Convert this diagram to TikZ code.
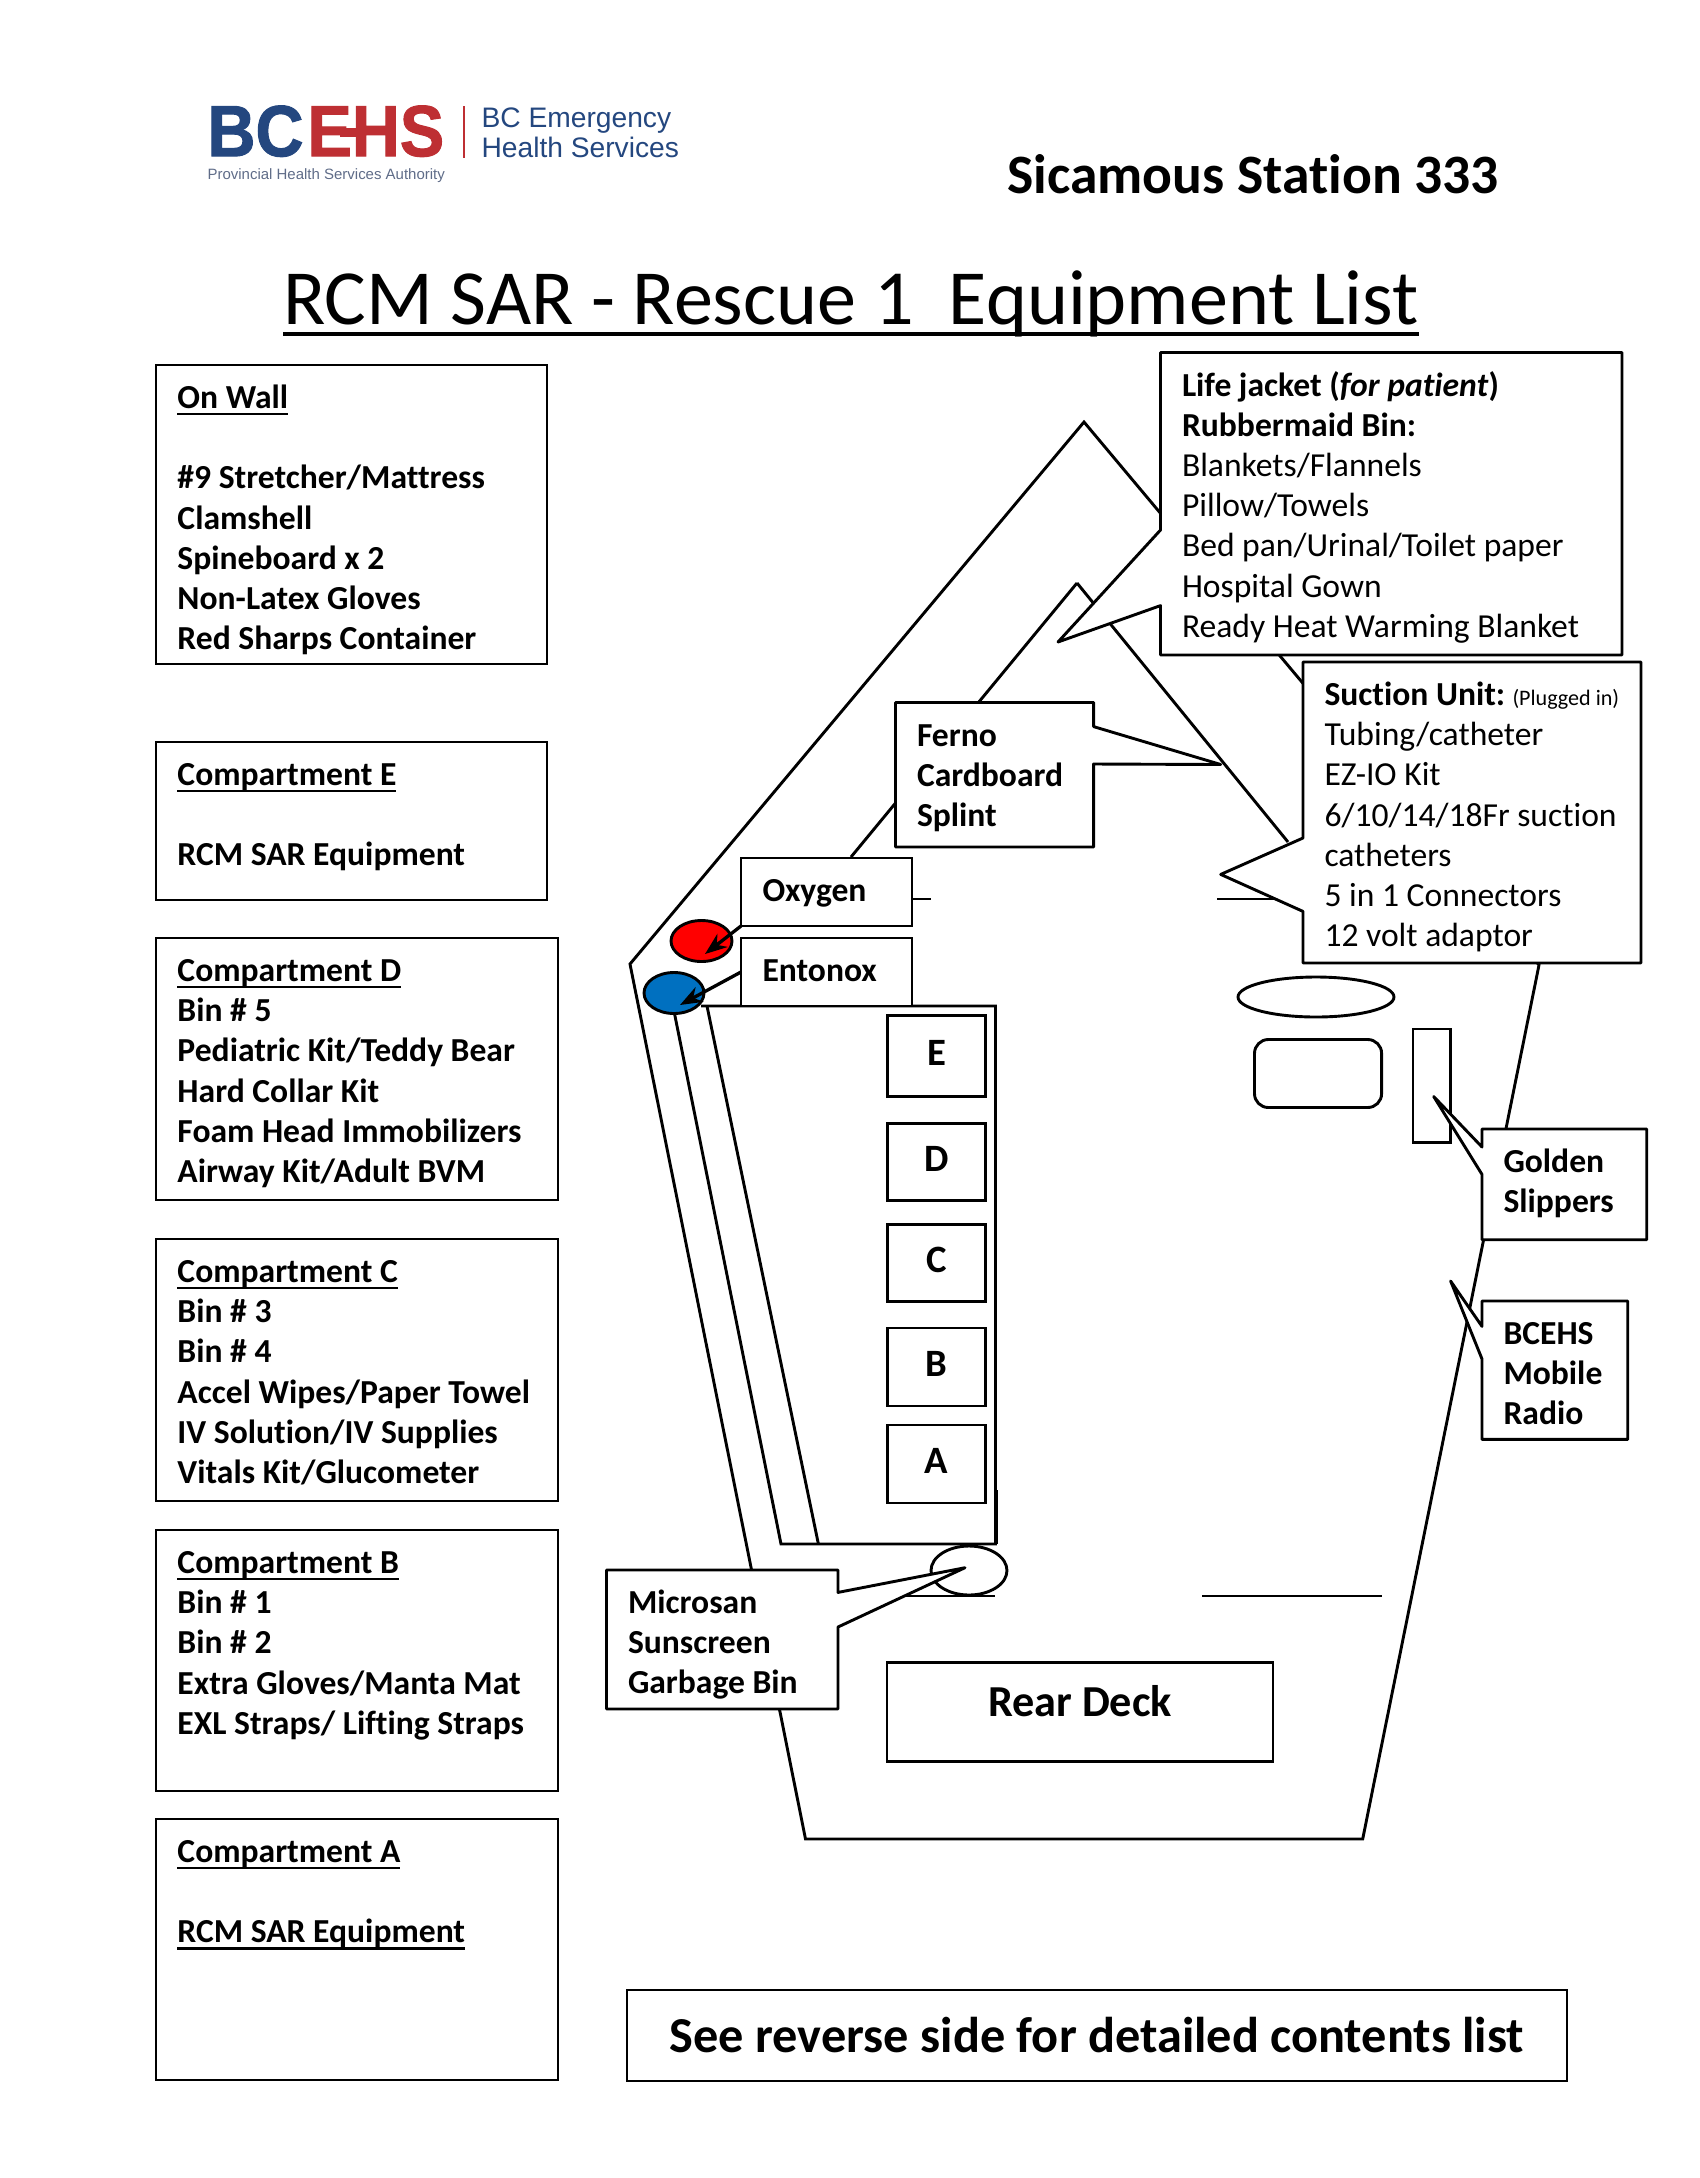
\documentclass[tikz,border=0pt]{standalone}
\usepackage{fontspec}
\usepackage{graphicx}
\usepackage{tikz}
\usetikzlibrary{arrows.meta}
\usetikzlibrary{shapes.geometric}
\setmainfont{Carlito}[Ligatures=NoCommon]
\newfontfamily\logofont{Liberation Sans}
\newfontfamily\logoheavy{Liberation Sans}[BoldFeatures={FakeBold=1.5}]
\definecolor{bcblue}{HTML}{24477F}
\definecolor{bcred}{HTML}{BE2F33}
\definecolor{bcgrey}{HTML}{5F6C88}
\definecolor{tankred}{HTML}{FF0000}
\definecolor{tankblue}{HTML}{0070C0}
\newlength{\pxu}
\setlength{\pxu}{0.005in}
% text block inside a box: width, height, then the lines
\newcommand{\boxtxt}[3]{\parbox[c][#2\pxu][t]{#1\pxu}{\raggedright\setlength{\leftskip}{21.5\pxu}\rule{0pt}{43.5\pxu}#3}}
% underline at a fixed depth: depth, thickness, text
\newcommand{\rulerline}[3]{\leavevmode\setbox0=\hbox{#3}\rlap{\rule[-#1]{\wd0}{#2}}\box0}
\newcommand{\headline}[1]{\rulerline{2.4pt}{0.8pt}{#1}}
\tikzset{
  edge/.style={line width=1.05pt, draw=black},
  textbox/.style={anchor=north west, inner sep=0pt, outer sep=0pt, font=\fontsize{12.15}{14.55}\selectfont},
  listbox/.style={textbox, edge, font=\fontsize{12.15}{14.55}\selectfont\bfseries},
  boldbox/.style={textbox, font=\fontsize{12.15}{14.55}\selectfont\bfseries},
  letterbox/.style={edge, fill=white, minimum width=98\pxu, minimum height=78\pxu, text height=9pt, text depth=2pt, font=\fontsize{14}{16}\selectfont\bfseries},
  callout/.style={edge, fill=white, line join=round},
  tankarrow/.style={line width=1.2pt, -{Stealth[length=8pt,width=6pt]}},
  logotext/.style={anchor=west, inner sep=0pt, bcblue, font=\logofont\fontsize{10.2}{12}\selectfont}
}
\begin{document}
\begin{tikzpicture}[x=0.005in, y=-0.005in]
  \useasboundingbox (0,0) rectangle (1700,2178);

  % Logo
  \node[anchor=north west, inner sep=0pt, bcblue] (logobc) at (207,105) {\scalebox{0.89}[0.97]{\logoheavy\fontsize{27}{27}\selectfont\bfseries BC}};
  \node[anchor=north west, inner sep=0pt, bcred] (logoehs) at (307,105) {\scalebox{0.89}[0.97]{\logoheavy\fontsize{27}{27}\selectfont\bfseries EHS}};
  \fill[bcred] (340,128) rectangle (358,137);
  \fill[bcred] (463,106) rectangle (465,158);
  \node[logotext] (logoname) at (481,121) {BC Emergency};
  \node[logotext] (logoname2) at (481,147) {Health Services};
  \node[anchor=west, inner sep=0pt, bcgrey, font=\logofont\fontsize{5.42}{7}\selectfont] (logosub) at (207,176) {Provincial Health Services Authority};

  % Headings
  \node[inner sep=0pt, font=\fontsize{20.1}{24}\selectfont\bfseries] (station) at (1253,174) {Sicamous Station 333};
  \node[inner sep=0pt, font=\fontsize{28.25}{34}\selectfont] (title) at (851,304) {\rulerline{4pt}{1.3pt}{RCM SAR - Rescue 1\ \ Equipment List}};

  % Left column lists
  \node[listbox] (onwall) at (156,365) {\boxtxt{391}{299}{\headline{On Wall}\\ ~\\ \#9 Stretcher/Mattress\\ Clamshell\\ Spineboard x 2\\ Non-Latex Gloves\\ Red Sharps Container}};
  \node[listbox] (compe) at (156,742) {\boxtxt{391}{158}{\headline{Compartment E}\\ ~\\ RCM SAR Equipment}};
  \node[listbox] (compd) at (156,938) {\boxtxt{402}{262}{\headline{Compartment D}\\ Bin \# 5\\ Pediatric Kit/Teddy Bear\\ Hard Collar Kit\\ Foam Head Immobilizers\\ Airway Kit/Adult BVM}};
  \node[listbox] (compc) at (156,1239) {\boxtxt{402}{262}{\headline{Compartment C}\\ Bin \# 3\\ Bin \# 4\\ Accel Wipes/Paper Towel\\ IV Solution/IV Supplies\\ Vitals Kit/Glucometer}};
  \node[listbox] (compb) at (156,1530) {\boxtxt{402}{261}{\headline{Compartment B}\\ Bin \# 1\\ Bin \# 2\\ Extra Gloves/Manta Mat\\ EXL Straps/ Lifting Straps}};
  \node[listbox] (compa) at (156,1819) {\boxtxt{402}{261}{\headline{Compartment A}\\ ~\\ \headline{RCM SAR Equipment}}};

  % Hull outline
  \draw[edge] (1084,422) -- (630,964) -- (805.5,1839) -- (1362.7,1839) -- (1539,965) -- cycle;
  \draw[edge] (1077,583) -- (851,857);
  \draw[edge] (1077,583) -- (1288,842);

  % Bulkhead stubs
  \draw[edge] (912,899) -- (931,899);
  \draw[edge] (1217,899) -- (1290,899);
  \draw[edge] (904,1596) -- (995,1596);
  \draw[edge] (1202,1596) -- (1382,1596);

  % Side bench
  \draw[edge] (701,1006) -- (995.5,1006) -- (995.5,1544) -- (781,1544) -- (673,1006);
  \draw[edge] (707,1006) -- (818.4,1544);
  \draw[edge] (997,1490) -- (997,1544);

  % Cabin fittings
  \node[ellipse, edge, minimum width=156\pxu, minimum height=40\pxu, inner sep=0pt] (seat) at (1316,997) {};
  \draw[edge, rounded corners=5pt] (1254.5,1039.5) rectangle (1381.6,1107.5);
  \draw[edge] (1413,1029) rectangle (1450.6,1142.6);
  \node[ellipse, edge, fill=white, minimum width=76\pxu, minimum height=49\pxu, inner sep=0pt] (garbage) at (969,1570.5) {};

  % Tanks
  \node[ellipse, edge, fill=tankred, minimum width=61\pxu, minimum height=41\pxu, inner sep=0pt] (redtank) at (701.5,941) {};
  \node[ellipse, edge, fill=tankblue, minimum width=60\pxu, minimum height=41\pxu, inner sep=0pt] (bluetank) at (674,993) {};

  % Compartments
  \node[letterbox, minimum height=81\pxu] (boxe) at (936.5,1056) {E};
  \node[letterbox, minimum height=77\pxu] (boxd) at (936.5,1162) {D};
  \node[letterbox, minimum height=77\pxu] (boxc) at (936.5,1263) {C};
  \node[letterbox, minimum height=78\pxu] (boxb) at (936.5,1367) {B};
  \node[letterbox, minimum height=78\pxu] (boxa) at (936.5,1464) {A};

  % Rear deck
  \node[edge, minimum width=386\pxu, minimum height=99\pxu, font=\fontsize{16}{18}\selectfont\bfseries] (reardeck) at (1080,1712) {\raisebox{8pt}{Rear Deck}};

  % Gas labels
  \node[listbox, fill=white] (oxygen) at (741,858) {\boxtxt{171}{68}{Oxygen}};
  \node[listbox, fill=white] (entonox) at (741,938) {\boxtxt{171}{68}{Entonox}};
  \coordinate (redtip) at (705,954);
  \coordinate (bluetip) at (680,1005);
  \draw[tankarrow] (oxygen.south west) -- (redtip);
  \draw[tankarrow] (entonox.west) -- (bluetip);

  % Callouts
  \draw[callout] (1160.5,352.5) -- (1622,352.5) -- (1622,655) -- (1160.5,655) -- (1160.5,605.6) -- (1058,642) -- (1160.5,530) -- cycle;
  \node[textbox] (lifejacket) at (1160.5,352.5) {\boxtxt{461}{302}{\textbf{Life jacket (\textit{for patient})}\\ \textbf{Rubbermaid Bin:}\\ Blankets/Flannels\\ Pillow/Towels\\ Bed pan/Urinal/Toilet paper\\ Hospital Gown\\ Ready Heat Warming Blanket}};

  \draw[callout] (1303,662) -- (1641,662) -- (1641,963) -- (1303,963) -- (1303,911.4) -- (1220.7,874.4) -- (1303,838) -- cycle;
  \node[textbox] (suction) at (1303,662) {\boxtxt{338}{301}{\textbf{Suction Unit:}\hspace{-1pt} {\fontsize{8}{10}\selectfont(Plugged in)}\\ Tubing/catheter\\ EZ-IO Kit\\ 6/10/14/18Fr suction catheters\\ 5 in 1 Connectors\\ 12 volt adaptor}};

  \draw[callout] (895.5,702.5) -- (1093.6,702.5) -- (1093.6,726.6) -- (1220.7,764.5) -- (1093.6,764) -- (1093.6,847) -- (895.5,847) -- cycle;
  \node[boldbox] (ferno) at (895.5,702.5) {\boxtxt{198}{144}{Ferno\\ Cardboard\\ Splint}};

  \draw[callout] (1482,1129) -- (1646.7,1129) -- (1646.7,1239.7) -- (1482,1239.7) -- (1482,1174.4) -- (1433.7,1096.5) -- (1482,1147) -- cycle;
  \node[boldbox] (slippers) at (1482,1129) {\boxtxt{164}{110}{Golden\\ Slippers}};

  \draw[callout] (1482,1301) -- (1627.7,1301) -- (1627.7,1439.4) -- (1482,1439.4) -- (1482,1359) -- (1450.6,1281) -- (1482,1326.4) -- cycle;
  \node[boldbox] (radio) at (1482,1301) {\boxtxt{145}{138}{BCEHS\\ Mobile\\ Radio}};

  \draw[callout] (606.5,1570) -- (838,1570) -- (838,1592.4) -- (965,1567.7) -- (838,1627) -- (838,1709) -- (606.5,1709) -- cycle;
  \node[boldbox] (microsan) at (606.5,1570) {\boxtxt{232}{139}{Microsan\\ Sunscreen\\ Garbage Bin}};

  % Footer note
  \node[edge, minimum width=940\pxu, minimum height=91\pxu, font=\fontsize{18.2}{22}\selectfont\bfseries] (reverse) at (1097,2035.5) {\raisebox{0.5pt}{See reverse side for detailed contents list}};
\end{tikzpicture}
\end{document}
